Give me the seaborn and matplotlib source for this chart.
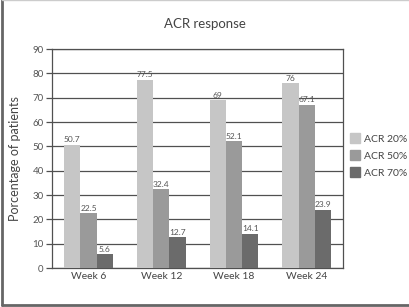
import matplotlib
matplotlib.use("Agg")
import matplotlib.pyplot as plt
import seaborn as sns
import pandas as pd
from matplotlib.lines import Line2D

weeks = ["Week 6", "Week 12", "Week 18", "Week 24"]
series = ["ACR 20%", "ACR 50%", "ACR 70%"]
acr20 = [50.7, 77.5, 69, 76]
acr50 = [22.5, 32.4, 52.1, 67.1]
acr70 = [5.6, 12.7, 14.1, 23.9]
labels20 = ["50.7", "77.5", "69", "76"]
labels50 = ["22.5", "32.4", "52.1", "67.1"]
labels70 = ["5.6", "12.7", "14.1", "23.9"]
colors = ["#c6c6c6", "#9a9a9a", "#6b6b6b"]

rows = []
for s, vals in zip(series, [acr20, acr50, acr70]):
    for w, v in zip(weeks, vals):
        rows.append({"week": w, "series": s, "value": v})
df = pd.DataFrame(rows)

sns.set_style("white")
plt.rcParams["font.family"] = ["Lato", "DejaVu Sans"]

fig = plt.figure(figsize=(4.10, 3.07), dpi=100)
ax = fig.add_axes([0.127, 0.127, 0.710, 0.713])

sns.barplot(data=df, x="week", y="value", hue="series", palette=colors,
            width=0.67, saturation=1, ax=ax, legend=False, errorbar=None,
            linewidth=0, zorder=3)

for cont, labs in zip(ax.containers, [labels20, labels50, labels70]):
    ax.bar_label(cont, labels=labs, fontsize=6, color="#555555", padding=1)

ax.set_ylim(0, 90)
ax.set_yticks(range(0, 91, 10))
ax.yaxis.grid(True, color="#505050", linewidth=0.9, zorder=0)
ax.set_axisbelow(True)
for sp in ax.spines.values():
    sp.set_color("#505050")
    sp.set_linewidth(0.9)
ax.tick_params(axis="y", direction="out", length=4, width=0.9, color="#505050",
               labelsize=7, labelcolor="#555555", pad=2, left=True)
ax.tick_params(axis="x", length=0, labelsize=7.5, labelcolor="#444444", pad=3)
ax.set_xlabel("")
ax.set_ylabel("Porcentage of patients", fontsize=9, color="#444444", labelpad=8)
fig.text(0.5, 0.921, "ACR response", ha="center", va="center", fontsize=9.5, color="#444444")

handles = [Line2D([0], [0], marker="s", linestyle="none", markersize=7,
                  markerfacecolor=c, markeredgecolor=c) for c in colors]
fig.legend(handles, series, loc="upper left", bbox_to_anchor=(0.843, 0.575),
           frameon=False, fontsize=7.5, labelcolor="#444444", handletextpad=0.35,
           labelspacing=0.75, handlelength=1.0, borderaxespad=0)

# outer frame
fig.add_artist(Line2D([0.006, 0.006], [0.008, 1.0], transform=fig.transFigure, color="#666666", linewidth=2))
fig.add_artist(Line2D([0.006, 1.0], [0.008, 0.008], transform=fig.transFigure, color="#666666", linewidth=2))
fig.add_artist(Line2D([0.006, 1.0], [0.999, 0.999], transform=fig.transFigure, color="#cccccc", linewidth=1))

fig.savefig("out.png", dpi=100)
